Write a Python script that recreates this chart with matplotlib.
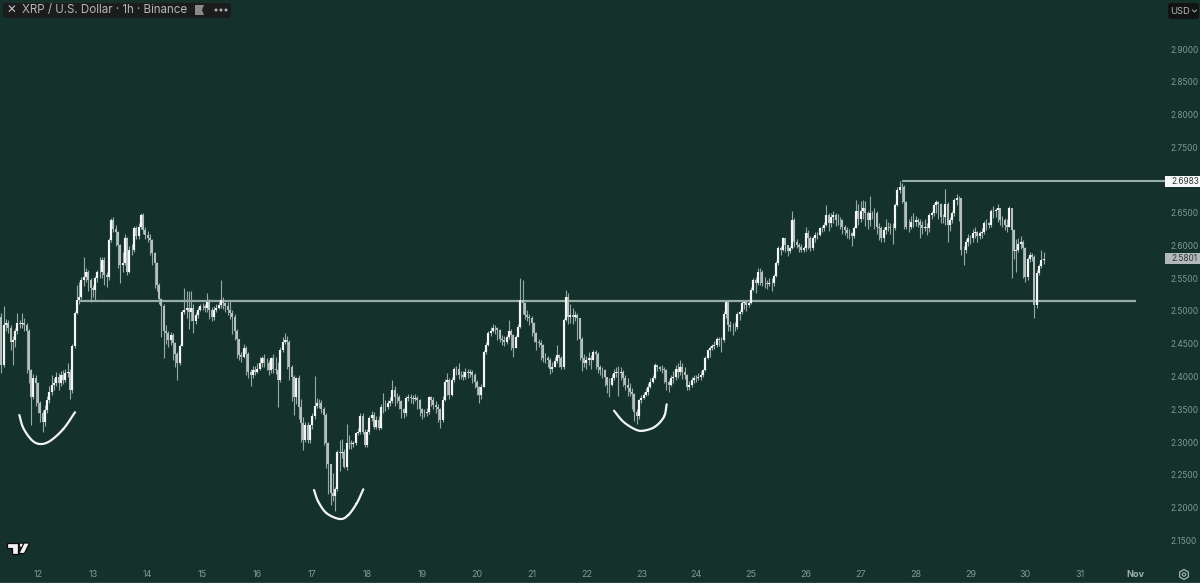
import numpy as np
import matplotlib
matplotlib.use("Agg")
import matplotlib.pyplot as plt
from matplotlib.patches import FancyBboxPatch, Polygon, Circle, RegularPolygon

# ---------- data ----------
first_close = 2.491
closes = [
2.491,2.418,2.479,2.481,2.474,2.453,2.456,2.469,2.481,2.480,
2.482,2.479,2.469,2.410,2.369,2.397,2.390,2.359,2.344,2.331,
2.349,2.364,2.377,2.387,2.390,2.400,2.390,2.402,2.395,2.405,
2.407,2.379,2.446,2.497,2.517,2.522,2.547,2.552,2.560,2.547,
2.535,2.532,2.550,2.560,2.560,2.578,2.555,2.552,2.608,2.639,
2.625,2.621,2.601,2.570,2.573,2.611,2.560,2.593,2.593,2.626,
2.614,2.629,2.647,2.624,2.616,2.611,2.608,2.588,2.573,2.540,
2.519,2.507,2.469,2.466,2.456,2.463,2.451,2.435,2.420,2.446,
2.499,2.502,2.504,2.499,2.504,2.484,2.494,2.502,2.507,2.508,
2.504,2.514,2.502,2.491,2.502,2.504,2.509,2.517,2.512,2.507,
2.502,2.497,2.491,2.469,2.458,2.433,2.430,2.443,2.435,2.407,
2.402,2.410,2.407,2.412,2.420,2.428,2.420,2.420,2.410,2.428,
2.412,2.410,2.395,2.440,2.453,2.456,2.453,2.415,2.400,2.369,
2.397,2.354,2.329,2.303,2.326,2.303,2.326,2.339,2.355,2.359,
2.359,2.351,2.341,2.298,2.267,2.222,2.217,2.229,2.285,2.283,
2.285,2.262,2.298,2.298,2.297,2.298,2.313,2.316,2.339,2.316,
2.295,2.316,2.336,2.341,2.323,2.334,2.321,2.354,2.353,2.354,
2.359,2.362,2.379,2.369,2.369,2.362,2.351,2.344,2.367,2.369,
2.367,2.365,2.367,2.364,2.351,2.344,2.344,2.346,2.369,2.364,
2.357,2.354,2.351,2.334,2.364,2.392,2.395,2.372,2.395,2.412,
2.412,2.402,2.402,2.400,2.407,2.405,2.407,2.402,2.392,2.384,
2.372,2.384,2.438,2.448,2.466,2.470,2.474,2.474,2.471,2.458,
2.456,2.453,2.461,2.470,2.463,2.443,2.461,2.476,2.517,2.512,
2.494,2.491,2.489,2.481,2.466,2.453,2.451,2.448,2.428,2.429,
2.425,2.412,2.415,2.423,2.433,2.428,2.415,2.486,2.522,2.491,
2.494,2.491,2.494,2.489,2.458,2.428,2.420,2.425,2.428,2.425,
2.438,2.435,2.415,2.410,2.410,2.400,2.387,2.387,2.397,2.405,
2.407,2.405,2.407,2.397,2.387,2.382,2.377,2.374,2.346,2.339,
2.364,2.367,2.372,2.377,2.384,2.392,2.397,2.418,2.414,2.412,
2.412,2.410,2.392,2.387,2.397,2.400,2.412,2.407,2.415,2.407,
2.402,2.384,2.387,2.395,2.397,2.397,2.400,2.402,2.410,2.429,
2.440,2.443,2.447,2.448,2.457,2.456,2.456,2.496,2.514,2.479,
2.476,2.476,2.475,2.496,2.499,2.512,2.514,2.509,2.512,2.532,
2.547,2.542,2.560,2.560,2.542,2.542,2.541,2.543,2.542,2.553,
2.573,2.596,2.593,2.611,2.601,2.591,2.596,2.639,2.606,2.601,
2.598,2.593,2.596,2.619,2.611,2.596,2.611,2.616,2.616,2.626,
2.626,2.631,2.647,2.634,2.644,2.647,2.639,2.639,2.639,2.629,
2.624,2.619,2.619,2.614,2.626,2.652,2.641,2.652,2.657,2.649,
2.639,2.649,2.649,2.649,2.629,2.626,2.611,2.624,2.629,2.629,
2.626,2.626,2.662,2.685,2.690,2.690,2.667,2.629,2.629,2.636,
2.636,2.639,2.636,2.631,2.626,2.629,2.626,2.647,2.649,2.662,
2.667,2.664,2.644,2.644,2.664,2.631,2.639,2.649,2.669,2.672,
2.672,2.593,2.593,2.606,2.611,2.611,2.619,2.621,2.614,2.619,
2.621,2.634,2.634,2.631,2.652,2.652,2.654,2.657,2.639,2.639,
2.631,2.629,2.657,2.624,2.591,2.593,2.603,2.606,2.596,2.552,
2.580,2.585,2.583,2.509,2.558,2.568,2.578,2.580]
highs = [
2.503,2.497,2.507,2.488,2.486,2.478,2.462,2.474,2.497,2.486,
2.497,2.490,2.481,2.472,2.412,2.404,2.402,2.392,2.362,2.349,
2.356,2.370,2.385,2.402,2.398,2.407,2.405,2.408,2.410,2.412,
2.420,2.412,2.450,2.500,2.540,2.545,2.552,2.583,2.565,2.562,
2.550,2.540,2.553,2.563,2.583,2.582,2.582,2.560,2.612,2.642,
2.644,2.632,2.622,2.603,2.590,2.618,2.613,2.600,2.603,2.630,
2.630,2.634,2.650,2.650,2.628,2.622,2.618,2.610,2.590,2.575,
2.542,2.520,2.510,2.478,2.470,2.468,2.466,2.452,2.438,2.450,
2.502,2.535,2.530,2.530,2.530,2.510,2.498,2.506,2.510,2.512,
2.510,2.527,2.518,2.506,2.508,2.510,2.514,2.547,2.522,2.514,
2.514,2.516,2.502,2.495,2.472,2.458,2.438,2.450,2.447,2.437,
2.412,2.416,2.416,2.420,2.430,2.432,2.434,2.428,2.425,2.430,
2.434,2.430,2.422,2.445,2.460,2.466,2.462,2.455,2.418,2.402,
2.400,2.402,2.365,2.338,2.330,2.330,2.328,2.344,2.401,2.367,
2.366,2.364,2.353,2.344,2.300,2.260,2.252,2.232,2.288,2.303,
2.305,2.290,2.328,2.310,2.303,2.302,2.316,2.322,2.344,2.344,
2.320,2.320,2.340,2.347,2.346,2.340,2.340,2.358,2.375,2.364,
2.364,2.368,2.395,2.385,2.375,2.372,2.364,2.352,2.370,2.374,
2.374,2.372,2.373,2.370,2.366,2.352,2.350,2.352,2.370,2.370,
2.368,2.362,2.358,2.352,2.370,2.396,2.405,2.397,2.400,2.415,
2.416,2.420,2.409,2.408,2.413,2.412,2.411,2.410,2.406,2.394,
2.386,2.388,2.440,2.452,2.470,2.476,2.480,2.478,2.476,2.472,
2.464,2.462,2.464,2.486,2.472,2.465,2.464,2.480,2.550,2.548,
2.514,2.502,2.496,2.492,2.483,2.468,2.458,2.455,2.450,2.436,
2.432,2.428,2.422,2.430,2.448,2.435,2.432,2.490,2.532,2.528,
2.510,2.505,2.500,2.497,2.490,2.460,2.435,2.432,2.438,2.433,
2.441,2.440,2.437,2.418,2.415,2.412,2.400,2.398,2.404,2.412,
2.415,2.416,2.415,2.410,2.402,2.398,2.390,2.382,2.375,2.350,
2.366,2.372,2.377,2.382,2.390,2.397,2.402,2.420,2.418,2.416,
2.417,2.415,2.412,2.395,2.403,2.408,2.418,2.420,2.425,2.420,
2.414,2.404,2.393,2.400,2.402,2.402,2.405,2.408,2.412,2.431,
2.442,2.446,2.450,2.454,2.460,2.460,2.460,2.500,2.516,2.516,
2.485,2.482,2.483,2.498,2.502,2.516,2.516,2.516,2.516,2.536,
2.550,2.552,2.566,2.565,2.563,2.552,2.548,2.550,2.550,2.556,
2.577,2.600,2.600,2.613,2.610,2.600,2.600,2.652,2.642,2.610,
2.604,2.602,2.600,2.628,2.624,2.614,2.614,2.620,2.620,2.628,
2.630,2.636,2.662,2.650,2.650,2.652,2.650,2.648,2.644,2.640,
2.632,2.628,2.625,2.620,2.630,2.669,2.664,2.668,2.669,2.668,
2.652,2.675,2.652,2.658,2.652,2.635,2.630,2.628,2.640,2.636,
2.634,2.634,2.665,2.690,2.698,2.695,2.692,2.668,2.640,2.645,
2.650,2.645,2.642,2.640,2.638,2.640,2.634,2.650,2.652,2.665,
2.670,2.668,2.665,2.648,2.687,2.666,2.644,2.652,2.672,2.679,
2.675,2.672,2.600,2.610,2.618,2.616,2.625,2.628,2.622,2.622,
2.626,2.638,2.640,2.636,2.656,2.660,2.658,2.664,2.658,2.645,
2.642,2.640,2.660,2.658,2.625,2.610,2.612,2.614,2.608,2.598,
2.583,2.590,2.588,2.586,2.563,2.572,2.593,2.590]
lows = [
2.470,2.405,2.415,2.470,2.466,2.440,2.417,2.445,2.465,2.474,
2.474,2.470,2.405,2.390,2.326,2.365,2.355,2.345,2.330,2.316,
2.325,2.345,2.360,2.372,2.380,2.385,2.380,2.385,2.388,2.392,
2.400,2.366,2.375,2.444,2.495,2.510,2.518,2.538,2.545,2.530,
2.514,2.522,2.517,2.545,2.550,2.550,2.540,2.537,2.548,2.605,
2.620,2.600,2.565,2.542,2.560,2.570,2.555,2.558,2.585,2.590,
2.610,2.610,2.625,2.618,2.610,2.605,2.585,2.570,2.535,2.530,
2.510,2.460,2.428,2.450,2.445,2.448,2.425,2.415,2.395,2.418,
2.446,2.495,2.490,2.472,2.484,2.466,2.480,2.490,2.500,2.502,
2.498,2.498,2.488,2.484,2.486,2.498,2.503,2.505,2.503,2.498,
2.494,2.488,2.465,2.455,2.428,2.425,2.422,2.428,2.402,2.397,
2.385,2.398,2.402,2.405,2.410,2.415,2.415,2.410,2.402,2.405,
2.405,2.404,2.354,2.392,2.438,2.450,2.412,2.395,2.362,2.341,
2.358,2.335,2.300,2.288,2.300,2.298,2.298,2.320,2.335,2.352,
2.352,2.344,2.295,2.260,2.220,2.204,2.210,2.194,2.225,2.255,
2.275,2.260,2.258,2.290,2.290,2.292,2.295,2.310,2.312,2.312,
2.292,2.292,2.312,2.332,2.320,2.320,2.318,2.320,2.345,2.348,
2.350,2.355,2.360,2.355,2.360,2.350,2.336,2.336,2.340,2.362,
2.360,2.358,2.362,2.350,2.340,2.335,2.338,2.340,2.342,2.355,
2.350,2.345,2.330,2.321,2.330,2.362,2.372,2.366,2.370,2.392,
2.402,2.396,2.396,2.394,2.396,2.398,2.400,2.390,2.382,2.372,
2.359,2.366,2.384,2.435,2.446,2.462,2.468,2.465,2.456,2.452,
2.448,2.447,2.450,2.458,2.440,2.430,2.443,2.460,2.474,2.495,
2.488,2.485,2.478,2.462,2.452,2.440,2.445,2.425,2.422,2.420,
2.415,2.404,2.407,2.414,2.420,2.415,2.412,2.412,2.484,2.480,
2.482,2.480,2.484,2.455,2.425,2.408,2.415,2.412,2.418,2.412,
2.425,2.412,2.405,2.402,2.398,2.385,2.375,2.369,2.385,2.395,
2.400,2.370,2.395,2.385,2.380,2.370,2.370,2.350,2.332,2.328,
2.335,2.360,2.365,2.370,2.372,2.382,2.390,2.396,2.408,2.408,
2.406,2.390,2.380,2.377,2.385,2.390,2.395,2.398,2.402,2.396,
2.396,2.380,2.380,2.384,2.390,2.392,2.394,2.394,2.400,2.408,
2.426,2.430,2.440,2.442,2.445,2.447,2.438,2.452,2.490,2.470,
2.470,2.463,2.470,2.472,2.486,2.496,2.503,2.500,2.506,2.510,
2.530,2.528,2.540,2.540,2.538,2.535,2.534,2.538,2.530,2.538,
2.552,2.570,2.585,2.592,2.590,2.584,2.588,2.594,2.598,2.596,
2.590,2.590,2.590,2.592,2.594,2.592,2.593,2.605,2.610,2.614,
2.620,2.622,2.630,2.622,2.628,2.635,2.630,2.632,2.625,2.618,
2.616,2.612,2.610,2.599,2.612,2.626,2.632,2.636,2.640,2.630,
2.625,2.630,2.640,2.625,2.618,2.608,2.606,2.606,2.618,2.622,
2.617,2.603,2.624,2.660,2.680,2.665,2.625,2.625,2.620,2.625,
2.628,2.630,2.628,2.611,2.618,2.622,2.616,2.620,2.640,2.645,
2.650,2.640,2.634,2.634,2.632,2.606,2.622,2.634,2.645,2.662,
2.638,2.586,2.570,2.588,2.600,2.602,2.606,2.612,2.605,2.610,
2.612,2.618,2.624,2.626,2.628,2.642,2.644,2.636,2.632,2.628,
2.624,2.620,2.628,2.550,2.580,2.560,2.590,2.594,2.550,2.545,
2.548,2.575,2.576,2.490,2.505,2.555,2.565,2.572]

price_ticks = [2.15,2.20,2.25,2.30,2.35,2.40,2.45,2.50,2.55,2.60,2.65,2.75,2.80,2.85,2.90]
day_labels = ["12","13","14","15","16","17","18","19","20","21","22","23","24","25","26","27","28","29","30","31","Nov"]
level_support = 2.516
level_high = 2.6983
last_price = 2.5801

# ---------- colours ----------
BG = "#14322b"
AXIS_TXT = "#7f9a92"
LINE = "#98ada5"
UP = "#f4f6f5"
DOWN = "#b4c0bc"
WICK = "#97a9a4"

plt.rcParams['font.family'] = ['Inter', 'DejaVu Sans']
fig = plt.figure(figsize=(12, 5.83), dpi=100, facecolor=BG)
ax = fig.add_axes([0, 0, 1, 1], facecolor=BG)

c = np.array(closes); h = np.array(highs); l = np.array(lows)
n = min(len(c), len(h), len(l))
c, h, l = c[:n], h[:n], l[:n]
o = np.r_[first_close, c[:-1]]
x = np.arange(n)
HR = 2.2854  # px per hour
ax.set_xlim(17 - 38 / HR, 17 + 1162 / HR)
ax.set_ylim(2.5 - 272 / 655, 2.5 + 311 / 655)

ax.hlines(level_support, 17 + 42 / HR, 17 + 1098 / HR, color=LINE, lw=1.6, zorder=1)
ax.hlines(level_high, 395, 17 + 1127 / HR, color=LINE, lw=1.5, zorder=1)
ax.vlines(x, l, h, color=WICK, lw=0.8, zorder=2)
up = c >= o
ax.vlines(x[~up], o[~up], c[~up], color=DOWN, lw=1.45, zorder=3)
ax.vlines(x[up], o[up], c[up], color=UP, lw=1.55, zorder=4)

for s in ax.spines.values():
    s.set_visible(False)
ax.yaxis.tick_right()
ax.set_yticks(price_ticks, [f"{v:.4f}" for v in price_ticks])
ax.set_xticks([17 + 24 * i for i in range(len(day_labels))], day_labels)
ax.tick_params(axis='y', length=0, pad=-21.5, labelsize=6.0, labelcolor=AXIS_TXT)
ax.tick_params(axis='x', length=0, pad=-9.3, labelsize=6.5, labelcolor=AXIS_TXT)
ax.get_xticklabels()[-1].set_fontweight('bold')
ax.get_xticklabels()[-1].set_color("#9fb2ac")

# overlay in pixel space for annotations and chart chrome
ov = fig.add_axes([0, 0, 1, 1], facecolor='none')
ov.set_xlim(0, 1200); ov.set_ylim(583, 0); ov.axis('off')

def smooth(pts, k=16):
    p = np.array(pts, float)
    p = np.vstack([2*p[0]-p[1], p, 2*p[-1]-p[-2]])
    out = []
    t = np.linspace(0, 1, k)[:, None]
    for i in range(1, len(p)-2):
        a, b, c_, d = p[i-1], p[i], p[i+1], p[i+2]
        out.append(0.5*((2*b)+(-a+c_)*t+(2*a-5*b+4*c_-d)*t**2+(-a+3*b-3*c_+d)*t**3))
    return np.vstack(out)

smile1 = [(19.3,415),(23.3,428),(31.7,440),(40,444),(50,441),(63.3,429),(75,412.3)]
smile2 = [(314,490),(318.3,501.7),(326.7,513.3),(340,519),(348.3,515),(356.7,503.3),(363.3,489.3)]
smile3 = [(614,410.7),(623.3,421.7),(635,429.3),(643.3,430.7),(655,426.7),(664,416.7),(666.7,404.3)]
for s in (smile1, smile2, smile3):
    q = smooth(s)
    ov.plot(q[:, 0], q[:, 1], color="#f2f4f3", lw=1.6, solid_capstyle='round')

# header
ov.add_patch(FancyBboxPatch((3, 3), 228, 15, boxstyle="round,pad=0,rounding_size=3", fc="#1b1c1c", ec="none"))
ov.text(11, 10.5, "✕", color="#c4c4c4", fontsize=8.5, ha='center', va='center', family=['DejaVu Sans'])
ov.text(22, 10.5, "XRP / U.S. Dollar · 1h · Binance", color="#b6b6b6", fontsize=8.35, ha='left', va='center')
ov.add_patch(Polygon([(195,5),(204,5),(202,10),(204,15),(195,15)], fc="#8a8a8a", ec="none"))
for xp in (216, 221, 226):
    ov.add_patch(Circle((xp, 10), 1.5, fc="#b0b0b0", ec="none"))

# currency
ov.add_patch(FancyBboxPatch((1168, 3), 31, 16, boxstyle="round,pad=0,rounding_size=3", fc="#121414", ec="none"))
ov.text(1170, 11, "USD", color="#b4b4b4", fontsize=6.8, ha='left', va='center')
ov.plot([1192.5,1194.5,1196.5], [10,12,10], color="#b4b4b4", lw=0.7)

# price tags
ov.add_patch(plt.Rectangle((1165, 176), 35, 10.5, fc="#f7f7f7", ec="none"))
ov.text(1171, 181.3, f"{level_high:.4f}", color="#2a3a36", fontsize=6.0, va='center', ha='left')
ov.add_patch(plt.Rectangle((1165, 253), 35, 11, fc="#b3b8ba", ec="none"))
ov.text(1171, 258.8, f"{last_price:.4f}", color="#2a3a36", fontsize=6.0, va='center', ha='left')

# logo
ov.add_patch(Polygon([(7,543),(18,543),(18,553.5),(12,553.5),(12,547.5),(7,547.5)], fc="#f2f2f2", ec="#0b0b0b", lw=0.9))
ov.add_patch(Circle((21.5, 545.3), 2.2, fc="#f2f2f2", ec="#0b0b0b", lw=0.7))
ov.add_patch(Polygon([(24,543),(29.5,543),(24.5,553.5),(18.8,553.5)], fc="#f2f2f2", ec="#0b0b0b", lw=0.9))

# settings icon
ov.add_patch(RegularPolygon((1184, 574.5), 6, radius=5, fc='none', ec="#a8b8b3", lw=0.9))
ov.add_patch(Circle((1184, 574.5), 1.7, fc='none', ec="#a8b8b3", lw=0.8))

# bottom edge
ov.plot([0, 1200], [582.5, 582.5], color="#6f8a82", lw=1)

fig.savefig("out.png", dpi=100, facecolor=BG)
